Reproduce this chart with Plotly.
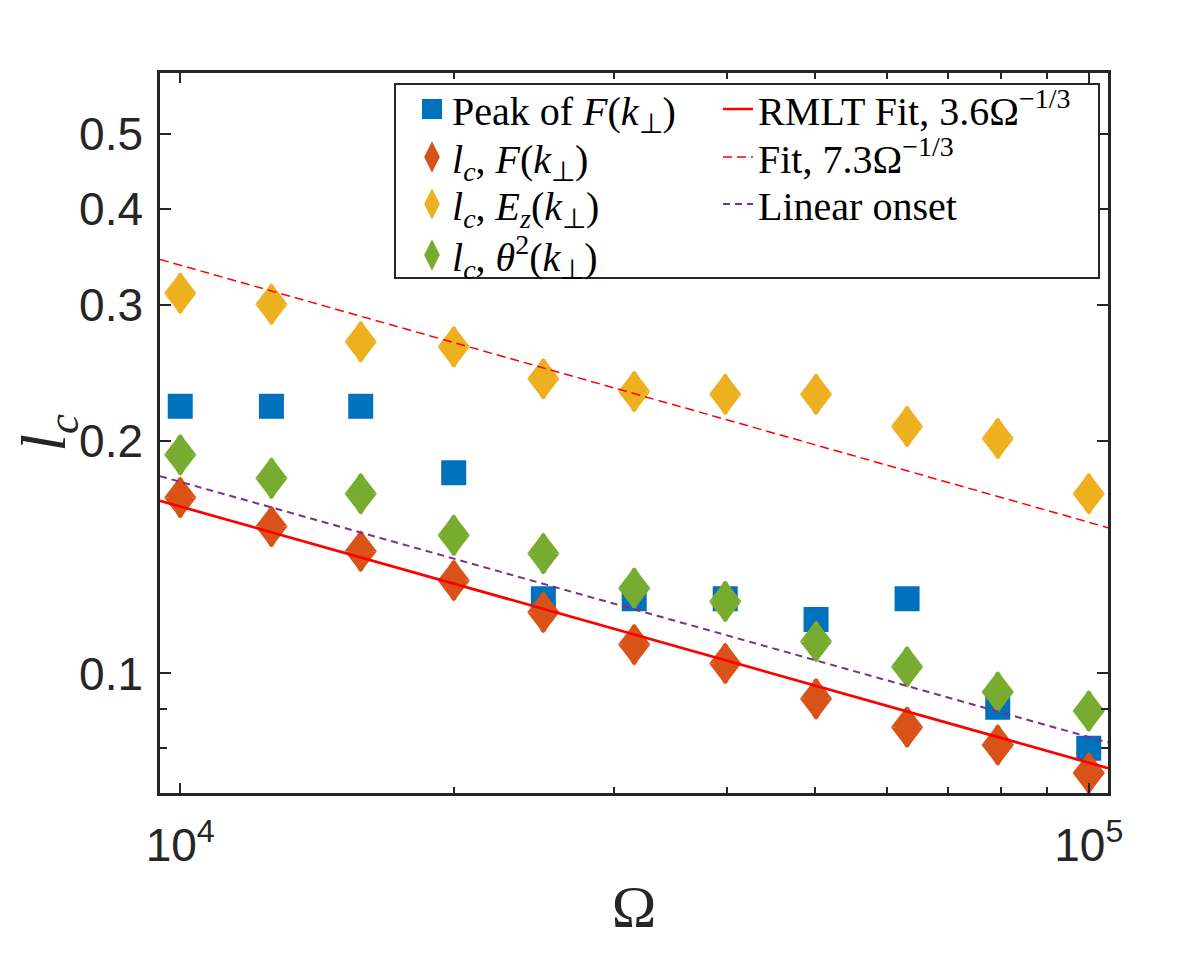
import math
import plotly.graph_objects as go

# ---------------- data ----------------
omega = [1.0e4, 1.26e4, 1.58e4, 2.0e4, 2.51e4, 3.16e4, 3.98e4, 5.01e4, 6.31e4, 7.94e4, 1.0e5]
peak_F = [0.222, 0.222, 0.222, 0.182, 0.125, 0.125, 0.125, 0.1175, 0.125, 0.0904, 0.080]
lc_F = [0.169, 0.155, 0.144, 0.132, 0.120, 0.109, 0.103, 0.0927, 0.0852, 0.0808, 0.0743]
lc_Ez = [0.311, 0.301, 0.269, 0.265, 0.241, 0.232, 0.230, 0.230, 0.209, 0.2016, 0.171]
lc_theta2 = [0.192, 0.179, 0.171, 0.151, 0.143, 0.129, 0.124, 0.110, 0.102, 0.0946, 0.0894]

line_x = [9500, 105000]
rmlt_fit = [0.1674, 0.0754]      # RMLT Fit, 3.6 Omega^-1/3
fit_73 = [0.3440, 0.1545]        # Fit, 7.3 Omega^-1/3
linear_onset = [0.1802, 0.0814]  # Linear onset

x_limits = [9500, 105000]
y_limits = [0.07, 0.6]
x_ticks = [1e4, 1e5]
x_ticktext = ["10<sup>4</sup>", "10<sup>5</sup>"]
x_minor = [2e4, 3e4, 4e4, 5e4, 6e4, 7e4, 8e4, 9e4]
y_ticks = [0.1, 0.2, 0.3, 0.4, 0.5]
y_ticktext = ["0.1", "0.2", "0.3", "0.4", "0.5"]
y_minor = [0.07, 0.08, 0.09]

labels = {
    "peak": "Peak of <i>F</i>(<i>k</i><sub>⊥</sub>)",
    "lcF": "<i>l</i><sub><i>c</i></sub>, <i>F</i>(<i>k</i><sub>⊥</sub>)",
    "lcEz": "<i>l</i><sub><i>c</i></sub>, <i>E</i><sub><i>z</i></sub>(<i>k</i><sub>⊥</sub>)",
    "lcT": "<i>l</i><sub><i>c</i></sub>, <i>θ</i><sup>2</sup>(<i>k</i><sub>⊥</sub>)",
    "rmlt": "RMLT Fit, 3.6Ω<sup>−1/3</sup>",
    "fit": "Fit, 7.3Ω<sup>−1/3</sup>",
    "lin": "Linear onset",
}

BLUE = "#0072BD"
ORANGE = "#D95319"
YELLOW = "#EDB120"
GREEN = "#77AC30"
RED = "#FF0000"
PURPLE = "#7E2F8E"
AX = "#262626"

fig = go.Figure()

fig.add_trace(go.Scatter(
    x=omega, y=peak_F, mode="markers", name=labels["peak"], legend="legend",
    marker=dict(symbol="square", size=21, color=BLUE, line=dict(color=BLUE, width=4)),
))

TRI = 28  # triangle marker size; two triangles make one tall diamond

def diamonds(yvals, color, name, legend):
    # legend-bearing tall diamond (fully covered by the two halves below)
    fig.add_trace(go.Scatter(
        x=omega, y=yvals, mode="markers", name=name, legend=legend,
        marker=dict(symbol="diamond-tall", size=27, color=color, line=dict(color=color, width=4)),
    ))
    # upper half
    fig.add_trace(go.Scatter(
        x=omega, y=yvals, mode="markers", showlegend=False, hoverinfo="skip",
        marker=dict(symbol="triangle-down", size=TRI, angle=180, standoff=TRI / 4,
                    color=color, line=dict(width=0)),
    ))
    # lower half
    fig.add_trace(go.Scatter(
        x=omega, y=yvals, mode="markers", showlegend=False, hoverinfo="skip",
        marker=dict(symbol="triangle-down", size=TRI, angle=0, standoff=TRI / 4,
                    color=color, line=dict(width=0)),
    ))

diamonds(lc_F, ORANGE, labels["lcF"], "legend2")
diamonds(lc_Ez, YELLOW, labels["lcEz"], "legend3")
diamonds(lc_theta2, GREEN, labels["lcT"], "legend4")

fig.add_trace(go.Scatter(
    x=line_x, y=rmlt_fit, mode="lines", name=labels["rmlt"], legend="legend5",
    line=dict(color=RED, width=2.7),
))
fig.add_trace(go.Scatter(
    x=line_x, y=fit_73, mode="lines", name=labels["fit"], legend="legend6",
    line=dict(color=RED, width=1.5, dash="9px,5px"),
))
fig.add_trace(go.Scatter(
    x=line_x, y=linear_onset, mode="lines", name=labels["lin"], legend="legend7",
    line=dict(color=PURPLE, width=2, dash="7px,5px"),
))

# page has an 8px body margin; figure is sized so the plot area lands at
# left 160, right 1108, top 73, bottom 793 in the 1196x958 window
W, H = 1180, 942
L, R, T, B = 160, 1108, 73, 793
OFF = 8

def px(xp):
    return (xp - L) / (R - L)

def py(yp):
    return (B - yp) / (B - T)

leg_font = dict(family="Liberation Serif, Times New Roman, serif", size=40, color="#000000")

def leg(xpix, ypix):
    return dict(x=px(xpix), y=py(ypix), xanchor="left", yanchor="middle",
                bgcolor="rgba(0,0,0,0)", borderwidth=0, font=leg_font,
                itemclick=False, itemdoubleclick=False)

col1, col2 = 412, 718
rows = [109, 157, 204, 255]

fig.update_layout(
    width=W, height=H,
    paper_bgcolor="white", plot_bgcolor="white",
    margin=dict(l=L - OFF, r=W - (R - OFF), t=T - OFF, b=H - (B - OFF), autoexpand=False),
    showlegend=True,
    legend=leg(col1, rows[0]),
    legend2=leg(col1, rows[1]),
    legend3=leg(col1, rows[2]),
    legend4=leg(col1, rows[3]),
    legend5=leg(col2, rows[0]),
    legend6=leg(col2, rows[1]),
    legend7=leg(col2, rows[2]),
    shapes=[dict(type="rect", xref="paper", yref="paper",
                 x0=px(395), x1=px(1099), y0=py(278), y1=py(84),
                 line=dict(color=AX, width=2), fillcolor="white", layer="above")],
)

tick_font = dict(family="Liberation Sans, Arial, sans-serif", size=46, color=AX)

fig.update_xaxes(
    type="log", range=[math.log10(x_limits[0]), math.log10(x_limits[1])],
    tickmode="array", tickvals=x_ticks, ticktext=x_ticktext,
    ticks="inside", ticklen=10, tickwidth=2, tickcolor=AX,
    minor=dict(tickmode="array", tickvals=x_minor, ticks="inside", ticklen=6, tickwidth=2, tickcolor=AX, showgrid=False),
    showline=True, linecolor=AX, linewidth=2.5, mirror="ticks",
    showgrid=False, zeroline=False, tickfont=tick_font, ticklabelstandoff=10,
    title=dict(text="Ω", font=dict(family="Liberation Serif, Times New Roman, serif", size=60, color=AX), standoff=16),
)
fig.update_yaxes(
    type="log", range=[math.log10(y_limits[0]), math.log10(y_limits[1])],
    tickmode="array", tickvals=y_ticks, ticktext=y_ticktext,
    ticks="inside", ticklen=11, tickwidth=2, tickcolor=AX,
    minor=dict(tickmode="array", tickvals=y_minor, ticks="inside", ticklen=7, tickwidth=2, tickcolor=AX, showgrid=False),
    showline=True, linecolor=AX, linewidth=2.5, mirror="ticks",
    showgrid=False, zeroline=False, tickfont=tick_font, ticklabelstandoff=5,
    title=dict(text="<i>l</i><sub><i>c</i></sub>", font=dict(family="Liberation Serif, Times New Roman, serif", size=64, color=AX), standoff=26),
)

fig.write_html("out.html")
